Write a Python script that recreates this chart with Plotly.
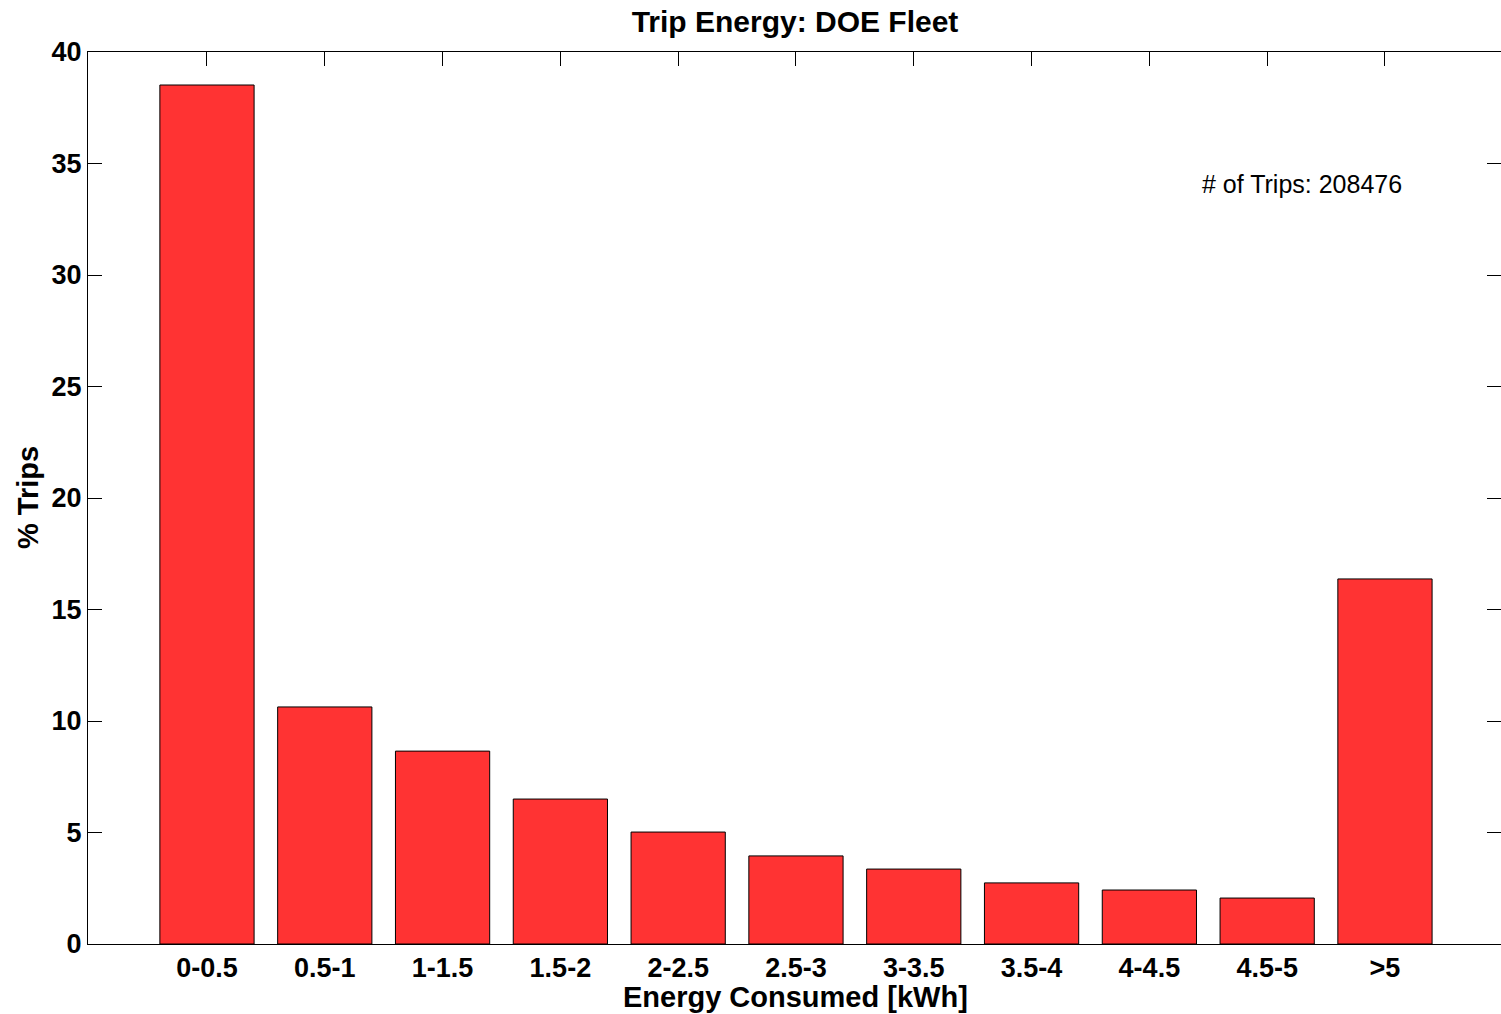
import plotly.graph_objects as go

# Trip energy distribution, DOE fleet
energy_bins = ['0-0.5', '0.5-1', '1-1.5', '1.5-2', '2-2.5', '2.5-3',
               '3-3.5', '3.5-4', '4-4.5', '4.5-5', '>5']
pct_trips = [38.52, 10.63, 8.65, 6.50, 5.02, 3.95, 3.36, 2.74, 2.42, 2.06, 16.37]
n_trips = 208476

FONT = 'Liberation Sans'

fig = go.Figure(go.Bar(
    x=energy_bins,
    y=pct_trips,
    width=0.8,
    marker=dict(color='#FF3333', line=dict(color='#000000', width=1)),
    hovertemplate='%{x}: %{y:.2f}%<extra></extra>',
))

axis_common = dict(
    showline=True, linecolor='black', linewidth=1, mirror='ticks',
    ticks='inside', ticklen=14, tickwidth=1, tickcolor='black',
    showgrid=False, zeroline=False, layer='below traces',
    tickfont=dict(family=FONT, size=27, color='black', weight='bold'),
)

fig.update_layout(
    width=1501, height=1014,
    margin=dict(l=88, r=0, t=52, b=70),
    paper_bgcolor='white', plot_bgcolor='white',
    showlegend=False,
    title=dict(text='Trip Energy: DOE Fleet', x=(795 / 1501), xanchor='center',
               y=1 - 21 / 1014, yanchor='middle', yref='container',
               font=dict(family=FONT, size=30, color='black', weight='bold')),
    xaxis=dict(axis_common, type='category', range=[-1.01, 10.985]),
    yaxis=dict(axis_common, range=[0, 40], tickvals=list(range(0, 45, 5))),
    annotations=[
        dict(text=f'# of Trips: {n_trips}', xref='paper', yref='y',
             x=(1200 - 88) / 1413, y=34.1, xanchor='left', yanchor='middle',
             showarrow=False, font=dict(family=FONT, size=25, color='black')),
        dict(text='% Trips', xref='paper', yref='paper',
             x=(28 - 88) / 1413, y=0.5, xanchor='center', yanchor='middle',
             textangle=-90, showarrow=False,
             font=dict(family=FONT, size=29, color='black', weight='bold')),
        dict(text='Energy Consumed [kWh]', xref='paper', yref='paper',
             x=(795 - 88) / 1413, y=-(997 - 944) / 892, xanchor='center',
             yanchor='middle', showarrow=False,
             font=dict(family=FONT, size=29, color='black', weight='bold')),
    ],
)

# drop the default page margin so the figure sits at the window's corner
fig.write_html('out.html', config={'displayModeBar': False},
               post_script="document.body.style.margin='0';")
